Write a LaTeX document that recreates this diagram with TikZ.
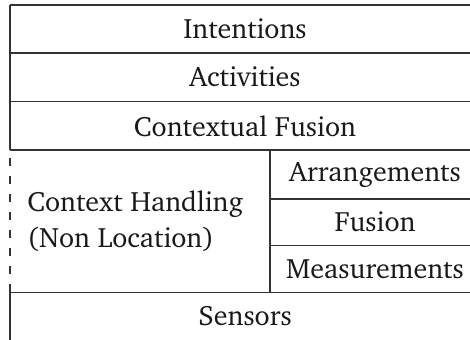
\documentclass[tikz,border=0pt]{standalone}
\usepackage[T1]{fontenc}
\usepackage{charter}
\usepackage{tikz}
\tikzset{
  rule/.style={line width=0.7pt, draw=black!80},
  layer/.style={font=\fontsize{14}{18}\selectfont, text=black!90, anchor=center, inner sep=0pt},
}

\begin{document}
\begin{tikzpicture}[x=0.5pt, y=-0.5pt]
  \useasboundingbox (0,0) rectangle (470,340);
  % horizontal rules of the stack
  \draw[rule] (10,5) -- (480,5);
  \draw[rule] (10,53) -- (480,53);
  \draw[rule] (10,101.5) -- (480,101.5);
  \draw[rule] (10,150) -- (480,150);
  \draw[rule] (270,199) -- (480,199);
  \draw[rule] (270,245.5) -- (480,245.5);
  \draw[rule] (10,292.5) -- (480,292.5);
  \draw[rule] (10,341) -- (480,341);
  % left side, dashed next to the context handling
  \draw[rule] (10,5) -- (10,150);
  \draw[rule, dash pattern=on 4pt off 5pt, dash phase=-4pt] (10,150) -- (10,292.5);
  \draw[rule] (10,292.5) -- (10,341);
  \draw[rule] (270,150) -- (270,292.5);
  % labels
  \node[layer] (intent) at (245,29) {Intentions};
  \node[layer] (activ) at (245,77) {Activities};
  \node[layer] (cfusion) at (245,126) {Contextual Fusion};
  \node[layer, align=left, anchor=west] (handling) at (27,221) {Context Handling\\(Non Location)};
  \node[layer] (arrange) at (375,174.5) {Arrangements};
  \node[layer] (fusion) at (375,222) {Fusion};
  \node[layer] (measure) at (375,269) {Measurements};
  \node[layer] (sensors) at (245,316) {Sensors};
\end{tikzpicture}
\end{document}
